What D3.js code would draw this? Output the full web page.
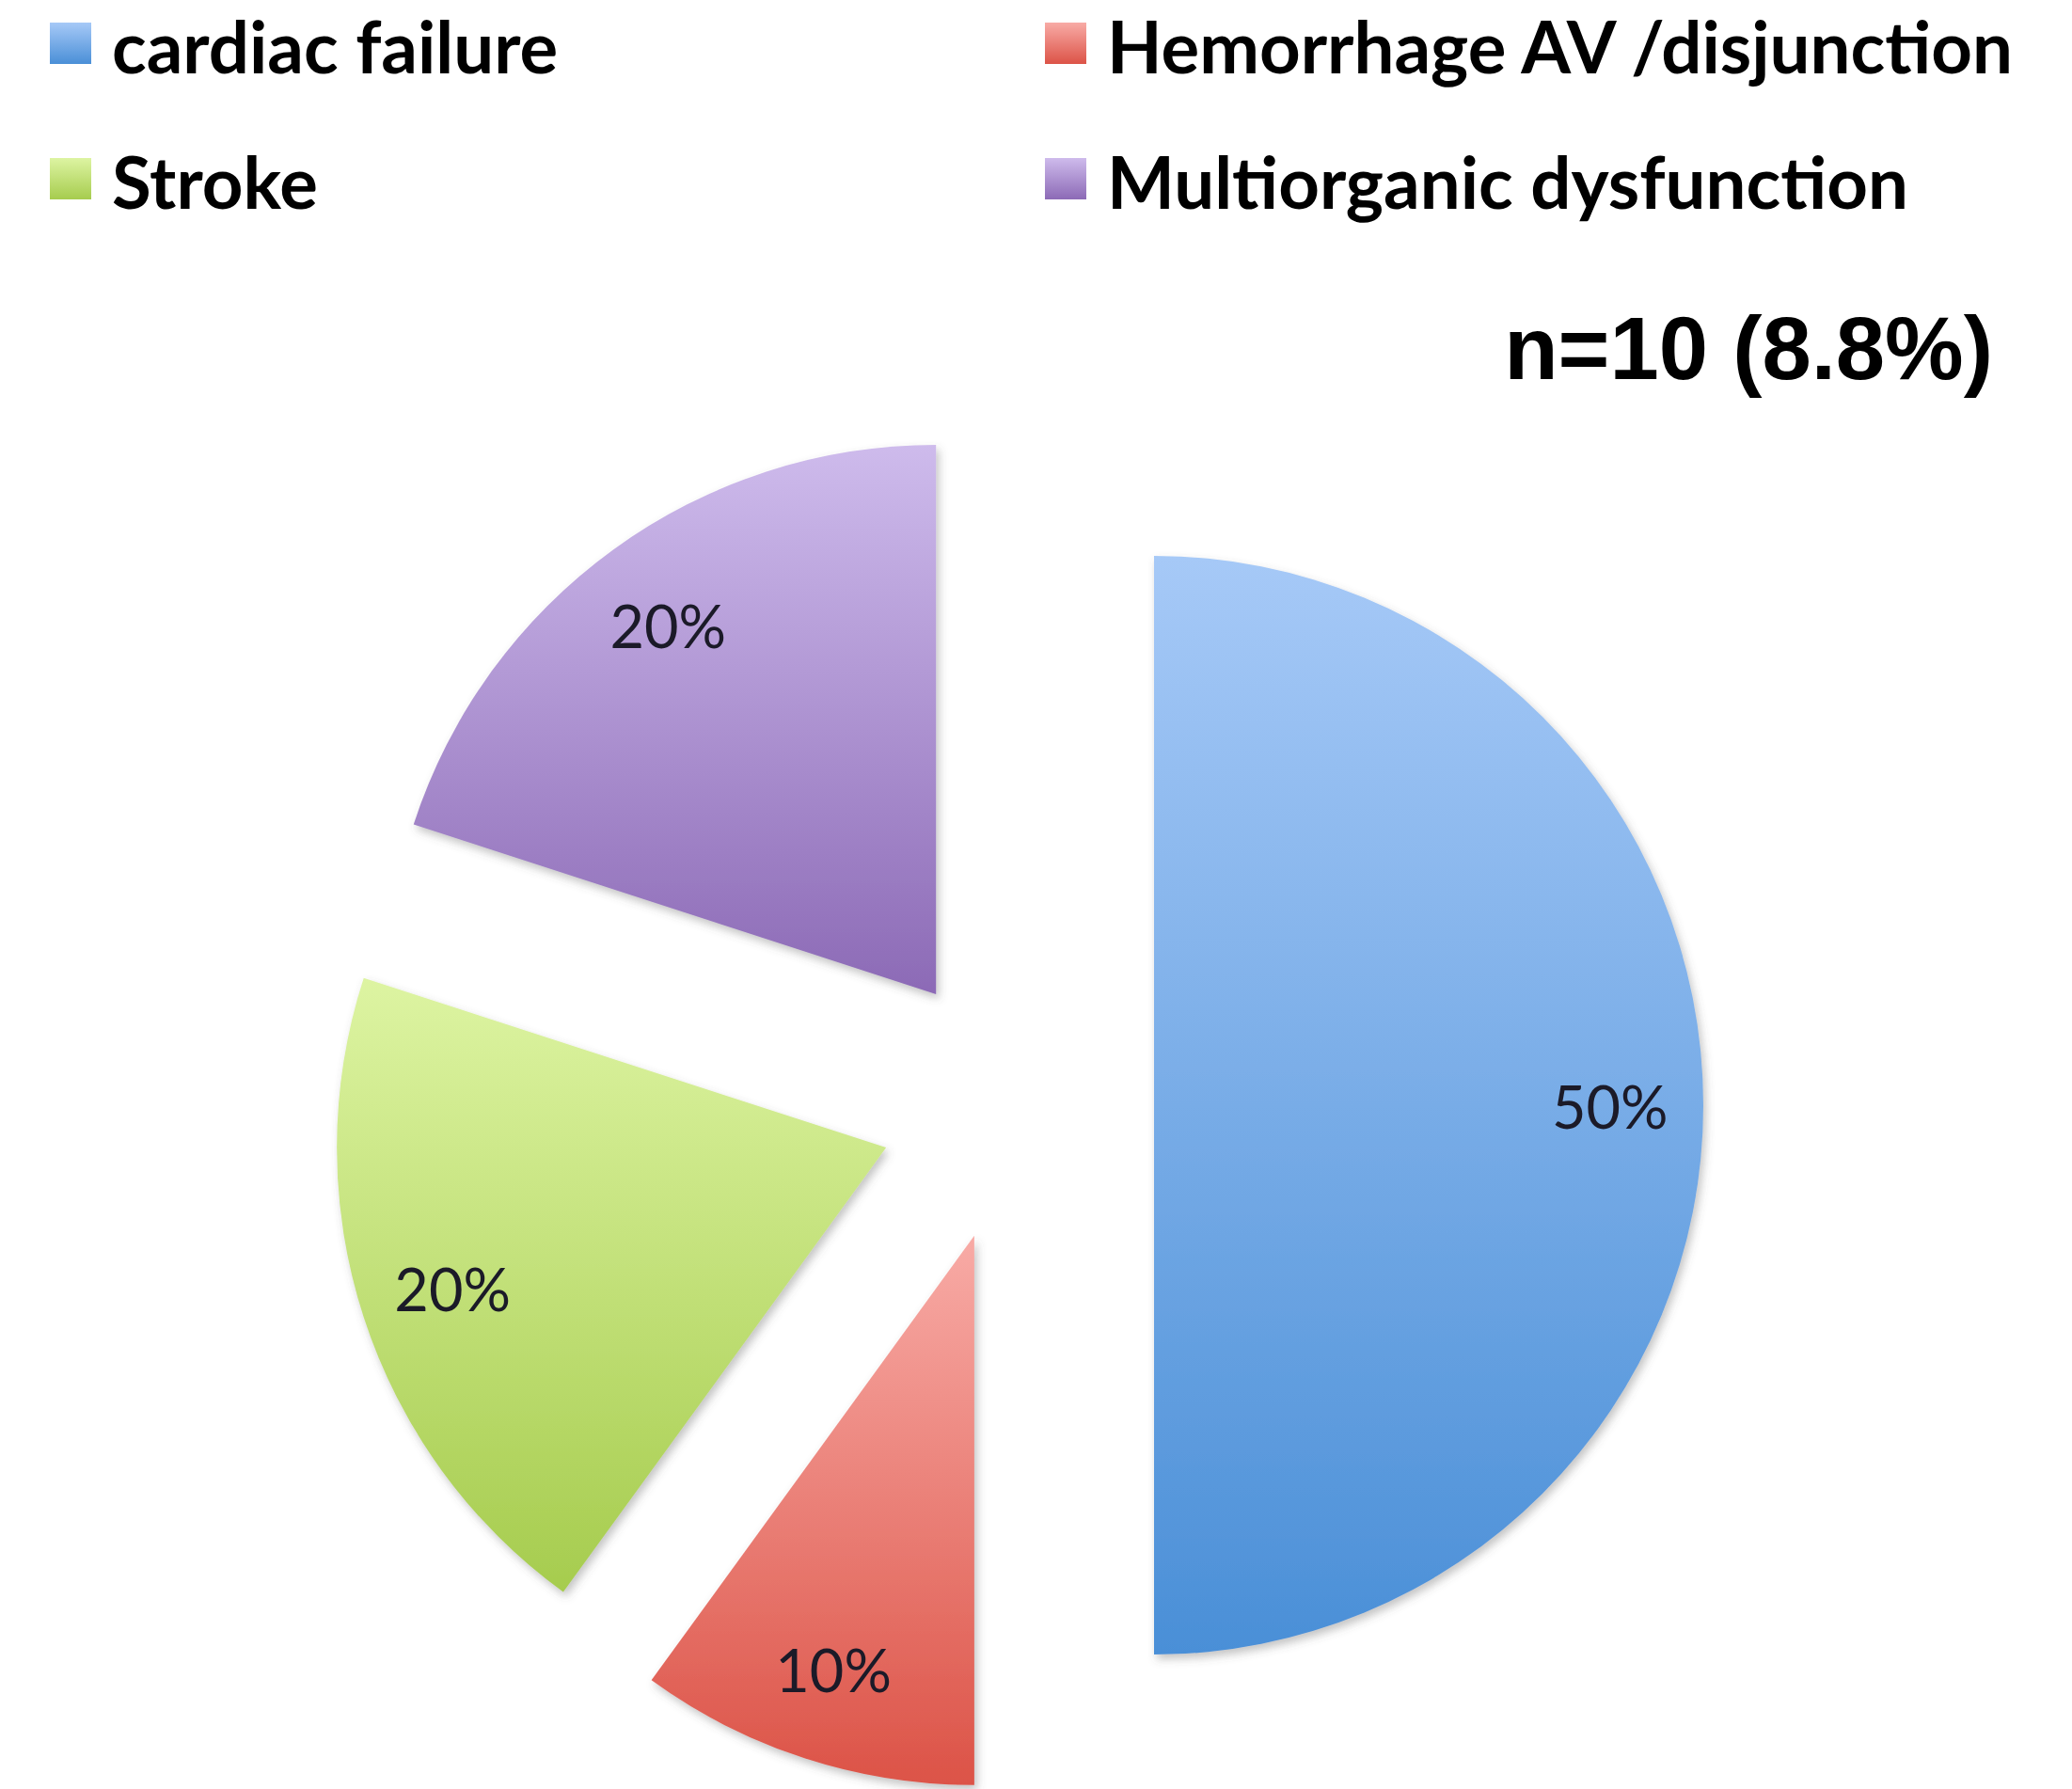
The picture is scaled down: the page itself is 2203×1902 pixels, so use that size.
<!DOCTYPE html>
<html>
<head>
<meta charset="utf-8">
<script src="https://cdn.jsdelivr.net/npm/d3@7"></script>
<style>
  html, body { margin: 0; padding: 0; background: #fff; }
  svg { display: block; }
</style>
</head>
<body>
<script>
// chart data
const categories = ["cardiac failure", "Hemorrhage AV /disjunction", "Stroke", "Multiorganic dysfunction"];
const values = [50, 10, 20, 20];
const title = "n=10 (8.8%)";

// top/bottom colours of each slice gradient
const topColors = ["#a6c9f7", "#f8aba6", "#ddf4a2", "#cebbec"];
const bottomColors = ["#4a8fd7", "#dc5347", "#a6cc4e", "#8c6ab6"];

const width = 2203;
const height = 1902;

// pie geometry
const cx = 1081, cy = 1175;
const radius = 584;
const explode = 146;
const labelRatio = 0.83;

const svg = d3.select('body')
  .append('svg')
  .attr('width', width)
  .attr('height', height);

const defs = svg.append('defs');

categories.forEach((c, i) => {
  const g = defs.append('linearGradient')
    .attr('id', 'grad' + i)
    .attr('x1', 0).attr('y1', 0)
    .attr('x2', 0).attr('y2', 1);
  g.append('stop').attr('offset', '0%').attr('stop-color', topColors[i]);
  g.append('stop').attr('offset', '100%').attr('stop-color', bottomColors[i]);
});

defs.append('filter')
  .attr('id', 'shadow')
  .attr('x', '-10%').attr('y', '-10%')
  .attr('width', '120%').attr('height', '120%')
.append('feDropShadow')
  .attr('dx', 3).attr('dy', 5)
  .attr('stdDeviation', 5)
  .attr('flood-color', '#555')
  .attr('flood-opacity', 0.35);

// legend
const legendCols = [53, 1111];
const legendRows = [24, 168];
const legend = svg.append('g').attr('class', 'legend');

const items = legend.selectAll('g')
  .data(categories)
  .enter().append('g')
  .attr('transform', (d, i) => `translate(${legendCols[i % 2]},${legendRows[Math.floor(i / 2)]})`);

items.append('rect')
  .attr('width', 44)
  .attr('height', 44)
  .attr('fill', (d, i) => `url(#grad${i})`);

const legendText = items.append('text')
  .attr('x', 66)
  .attr('y', 54)
  .style('font-family', 'Lato, "Open Sans", sans-serif')
  .style('font-weight', 'bold')
  .style('font-size', '72px')
  .attr('fill', '#000')
  .text((d) => d);

// scale legend font so the long entry spans the same width as the picture
const hemWidth = legendText.filter((d, i) => i === 1).node().getComputedTextLength();
legendText.style('font-size', (72 * 963 / hemWidth) + 'px');

// title
svg.append('text')
  .attr('x', 2119)
  .attr('y', 403)
  .attr('text-anchor', 'end')
  .style('font-family', '"Liberation Sans", Arial, Helvetica, sans-serif')
  .style('font-weight', 'bold')
  .style('font-size', '94px')
  .attr('fill', '#000')
  .text(title);

// pie
const total = d3.sum(values);
const pie = d3.pie().sort(null).value((d) => d)(values);
const arc = d3.arc().innerRadius(0).outerRadius(radius);

const slices = svg.append('g')
  .attr('transform', `translate(${cx},${cy})`)
  .selectAll('g')
  .data(pie)
  .enter().append('g')
  .attr('transform', (d) => {
    const mid = (d.startAngle + d.endAngle) / 2;
    return `translate(${Math.sin(mid) * explode},${-Math.cos(mid) * explode})`;
  });

slices.append('path')
  .attr('d', arc)
  .attr('fill', (d, i) => `url(#grad${i})`)
  .attr('filter', 'url(#shadow)');

slices.append('text')
  .attr('x', (d) => Math.sin((d.startAngle + d.endAngle) / 2) * radius * labelRatio)
  .attr('y', (d) => -Math.cos((d.startAngle + d.endAngle) / 2) * radius * labelRatio)
  .attr('text-anchor', 'middle')
  .attr('dominant-baseline', 'central')
  .style('font-family', 'Lato, "Open Sans", sans-serif')
  .style('font-size', '63px')
  .attr('fill', '#1b1a28')
  .text((d) => Math.round(d.value / total * 100) + '%');
</script>
</body>
</html>
